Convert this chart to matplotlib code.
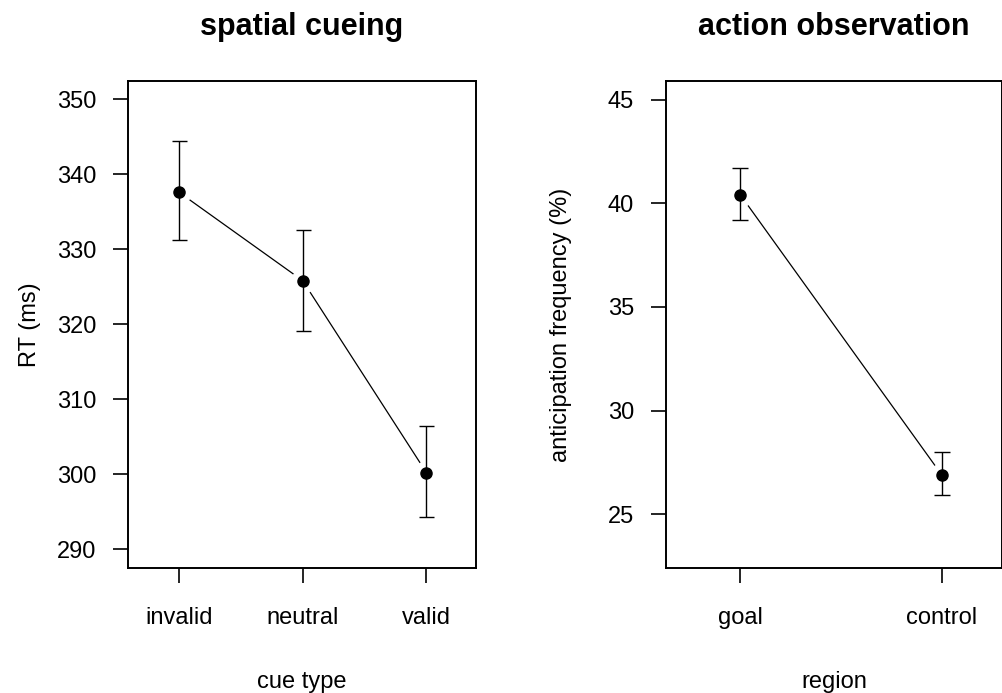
import matplotlib
matplotlib.use("Agg")
import matplotlib.pyplot as plt

plt.rcParams['font.family'] = ['Liberation Sans', 'DejaVu Sans']

# spatial cueing
cue_types = ["invalid", "neutral", "valid"]
rt_mean = [337.6, 325.8, 300.2]
rt_low = [331.2, 319.1, 294.3]
rt_high = [344.4, 332.5, 306.4]

# action observation
regions = ["goal", "control"]
ant_mean = [40.4, 26.9]
ant_low = [39.2, 25.9]
ant_high = [41.7, 28.0]

fig = plt.figure(figsize=(10.03, 6.93), dpi=100)
ax1 = fig.add_axes([128/1003, 125/693, 348/1003, 487/693])
ax2 = fig.add_axes([666/1003, 125/693, 336/1003, 487/693])


def panel(ax, labels, mean, low, high, ylim, xlim, yticks, title, xlabel, ylabel, cap, ypad):
    x = list(range(1, len(labels) + 1))
    err = [[m - l for m, l in zip(mean, low)], [h - m for m, h in zip(mean, high)]]
    ax.plot(x, mean, color="black", lw=0.9, zorder=1)
    # white disks give the R type="b" gaps around points
    ax.plot(x, mean, "o", ms=17, color="white", zorder=2)
    ax.errorbar(x, mean, yerr=err, fmt="none", ecolor="black", elinewidth=1.0,
                capsize=cap, capthick=1.0, zorder=3)
    ax.plot(x, mean, "o", ms=8, color="black", zorder=4)
    ax.set_xlim(*xlim)
    ax.set_ylim(*ylim)
    ax.set_xticks(x)
    ax.set_xticklabels(labels)
    ax.set_yticks(yticks)
    ax.tick_params(direction="out", length=11, width=1.2, labelsize=17)
    ax.tick_params(axis="x", pad=17)
    ax.tick_params(axis="y", pad=12)
    for s in ax.spines.values():
        s.set_linewidth(1.4)
    ax.set_title(title, fontsize=22, fontweight="bold", pad=33)
    ax.set_xlabel(xlabel, fontsize=17, labelpad=30)
    ax.set_ylabel(ylabel, fontsize=17, labelpad=ypad)


panel(ax1, cue_types, rt_mean, rt_low, rt_high, (287.5, 352.4), (0.59, 3.4),
      [290, 300, 310, 320, 330, 340, 350], "spatial cueing", "cue type", "RT (ms)", 5.4, 11)
panel(ax2, regions, ant_mean, ant_low, ant_high, (22.4, 45.9), (0.63, 2.3),
      [25, 30, 35, 40, 45], "action observation", "region",
      "anticipation frequency (%)", 6, 26)

fig.savefig("out.png", dpi=100)
